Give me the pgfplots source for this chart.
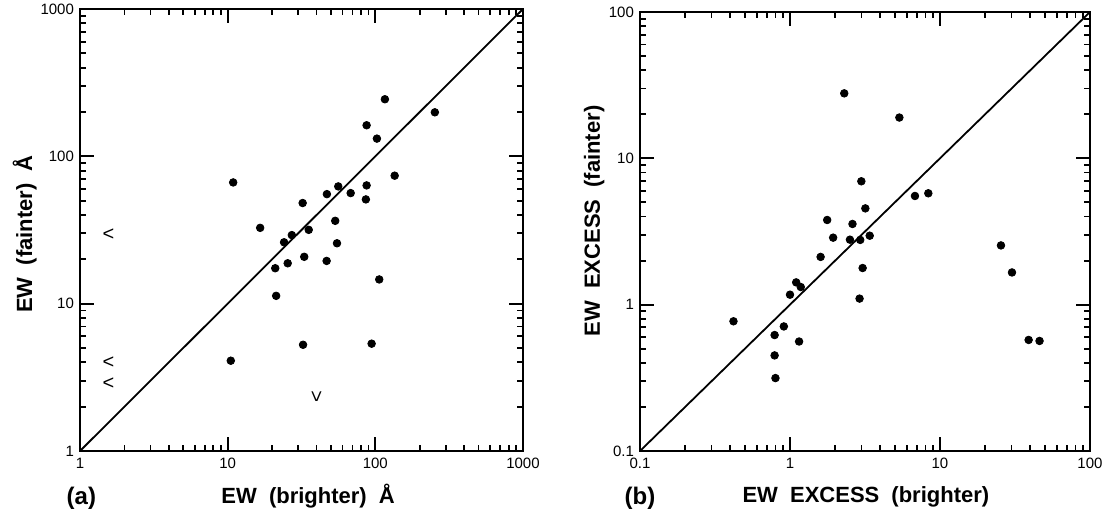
\documentclass[border=0pt]{standalone}
\usepackage{fontspec}
\setmainfont{Liberation Sans}
\usepackage{graphicx}
\usepackage{pgfplots}
\pgfplotsset{compat=1.18}
\newcommand\wsp{\hspace{0.55em}}
\pgfplotsset{
  mypanel/.style={
    scale only axis,
    axis line style={line width=0.9pt},
    tick style={line width=0.9pt, black},
    major tick length=7pt,
    minor tick num=0,
    tick align=inside,
    xtick pos=both, ytick pos=both,
    xticklabel pos=lower, yticklabel pos=left,
    tick label style={font=\fontsize{7.5}{8}\selectfont},
    yticklabel style={xshift=0.5pt},
    clip=false,
  },
  mydots/.style={only marks, mark=*, mark size=1.9pt, mark options={fill=black, draw=black}},
  mydiag/.style={no marks, line width=0.9pt, black},
}
\begin{document}
\begin{tikzpicture}
\useasboundingbox (0,0) rectangle (552.5pt,259.5pt);
% ---------------- panel (a)
\begin{axis}[mypanel, xmode=log, ymode=log,
  at={(40pt,34pt)}, anchor=south west,
  width=221.5pt, height=221pt,
  xmin=1, xmax=1000, ymin=1, ymax=1000,
  xtick={1,10,100,1000}, xticklabels={1,10,100,1000},
  ytick={1,10,100,1000}, yticklabels={1,10,100,1000},
]
\addplot[mydiag] coordinates {(1,1) (1000,1000)};
\addplot[mydots] coordinates {
(10.9,66.5) (16.6,32.7) (10.5,4.1) (21.0,17.4) (21.3,11.3)
(24.1,26.1) (27.2,29.2) (25.5,18.8) (32.2,48.2) (35.4,31.7)
(33.0,20.8) (32.4,5.26) (47.0,55.4) (46.8,19.5) (53.5,36.5)
(55.0,25.7) (56.1,62.5) (68.1,56.3) (87.3,162.5) (87.3,63.5)
(86.3,51.0) (102.5,131.9) (106.3,14.6) (94.4,5.35) (116.1,244)
(135.2,73.9) (253,199)
};
\addplot[only marks, mark=text, text mark={\fontsize{10}{10}\selectfont <}]
  coordinates {(1.56,29.2) (1.56,3.97) (1.56,2.87)};
\addplot[only marks, mark=text, text mark={\fontsize{10}{10}\selectfont\rotatebox{90}{<}}]
  coordinates {(40.4,2.33)};
\node[anchor=base, font=\fontsize{11}{12}\selectfont\bfseries] at (rel axis cs:0.515,-0.118) {EW\wsp(brighter)\wsp Å};
\node[anchor=base, font=\fontsize{12}{13}\selectfont\bfseries] at (rel axis cs:0.003,-0.122) {(a)};
\node[anchor=base, rotate=90, font=\fontsize{11}{12}\selectfont\bfseries] at (rel axis cs:-0.108,0.491) {EW\wsp(fainter)\wsp Å};
\end{axis}
% ---------------- panel (b)
\begin{axis}[mypanel, xmode=log, ymode=log,
  at={(320pt,34pt)}, anchor=south west,
  width=225pt, height=219.5pt,
  xmin=0.1, xmax=100, ymin=0.1, ymax=100,
  xtick={0.1,1,10,100}, xticklabels={0.1,1,10,100},
  ytick={0.1,1,10,100}, yticklabels={0.1,1,10,100},
]
\addplot[mydiag] coordinates {(0.1,0.1) (100,100)};
\addplot[mydots] coordinates {
(2.30,27.8) (5.36,19.0) (2.99,6.97) (6.81,5.53) (8.36,5.77)
(3.18,4.55) (1.77,3.79) (2.61,3.56) (1.94,2.87) (2.51,2.78)
(2.94,2.77) (3.40,2.96) (1.60,2.12) (3.05,1.78) (1.10,1.42)
(1.18,1.32) (1.00,1.17) (2.91,1.10) (0.42,0.77) (0.91,0.71)
(0.79,0.62) (0.79,0.45) (0.80,0.315) (1.15,0.56) (25.5,2.54)
(30.2,1.66) (39.0,0.574) (46.1,0.565)
};
\node[anchor=base, font=\fontsize{11}{12}\selectfont\bfseries] at (rel axis cs:0.502,-0.118) {EW\wsp EXCESS\wsp(brighter)};
\node[anchor=base, font=\fontsize{12}{13}\selectfont\bfseries] at (rel axis cs:0.0,-0.122) {(b)};
\node[anchor=base, rotate=90, font=\fontsize{11}{12}\selectfont\bfseries] at (rel axis cs:-0.089,0.524) {EW\wsp EXCESS\wsp(fainter)};
\end{axis}
\end{tikzpicture}
\end{document}
